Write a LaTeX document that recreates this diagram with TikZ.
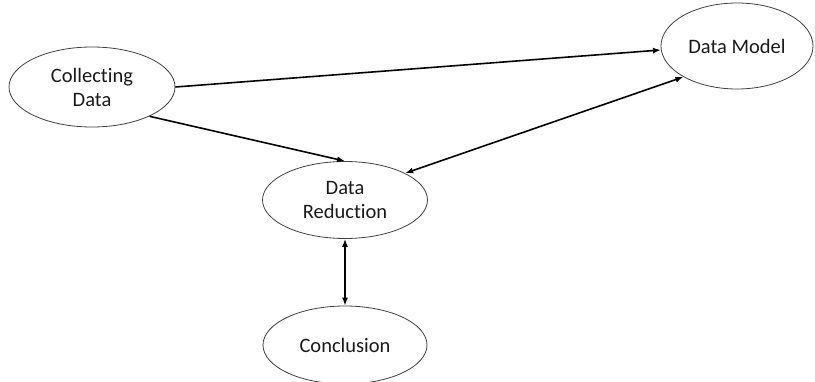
\documentclass[tikz,border=0pt]{standalone}
\usepackage{fontspec}
\setmainfont[Ligatures={NoCommon}]{Carlito}
\usetikzlibrary{shapes.geometric,arrows.meta}
\begin{document}
\begin{tikzpicture}[x=1pt,y=-1pt,
  stage/.style={ellipse,draw=black!75,line width=0.8pt,inner sep=0pt,
    align=center,text=black!90,font=\fontsize{20.5}{24}\selectfont},
  conn/.style={line width=1.6pt,-{Latex[length=8pt,width=6pt]}},
  biconn/.style={line width=1.6pt,{Latex[length=8pt,width=6pt]}-{Latex[length=8pt,width=6pt]}}]
\useasboundingbox (0,0) rectangle (815,382);
\node[stage,minimum width=166pt,minimum height=80pt] (cd) at (92,87) {Collecting\\Data};
\node[stage,minimum width=152pt,minimum height=86pt] (dm) at (737,46) {Data Model};
\node[stage,minimum width=165pt,minimum height=77pt] (dr) at (345,200) {Data\\Reduction};
\node[stage,minimum width=164pt,minimum height=78pt] (cc) at (345,345) {Conclusion};
\draw[conn] (cd.east) -- (dm.183);
\draw[conn] (cd.-27) -- (dr.north);
\draw[biconn] (dr.24) -- (dm.210);
\draw[biconn] (dr.south) -- (cc.north);
\end{tikzpicture}
\end{document}
